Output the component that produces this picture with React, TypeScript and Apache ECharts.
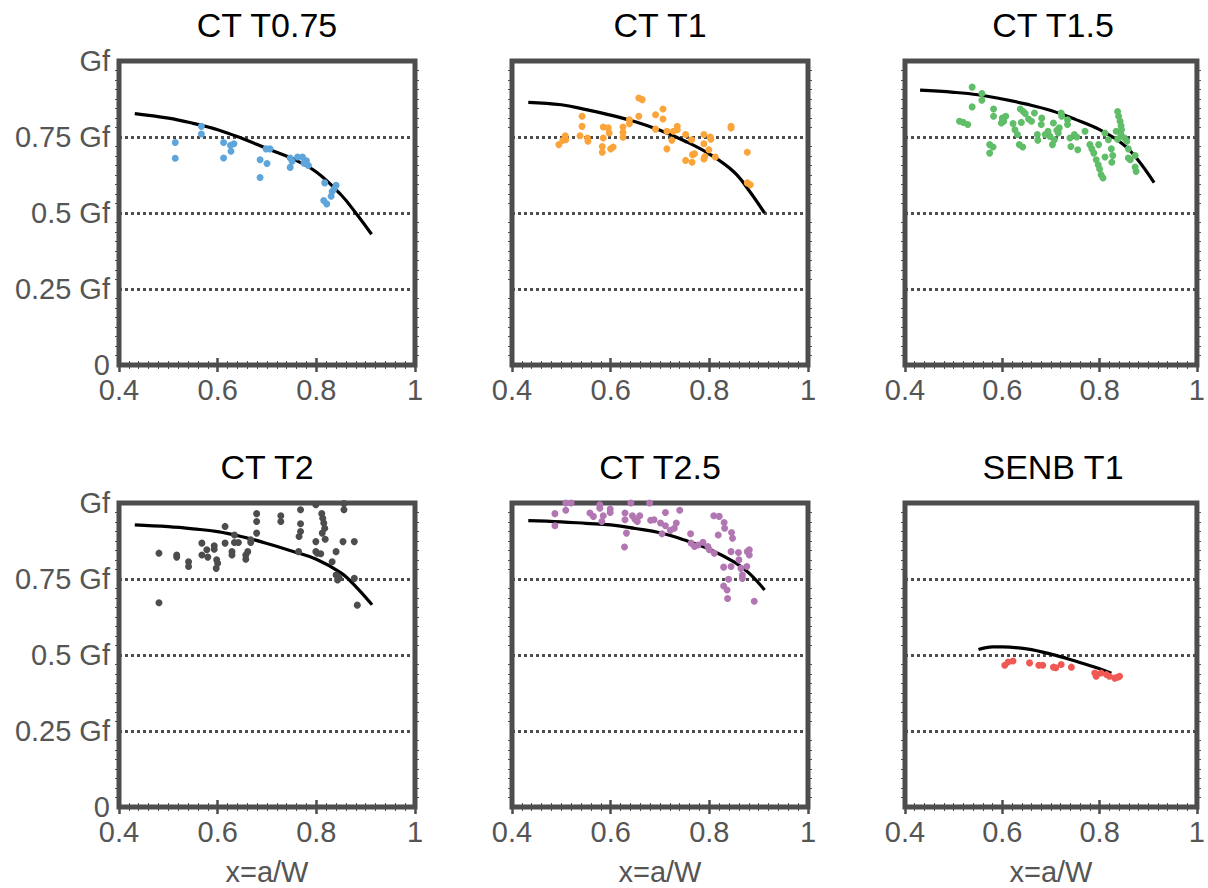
import React, { useEffect, useRef } from "react";
import * as echarts from "echarts";

// ---------- data ----------
const panelTitles = ["CT T0.75", "CT T1", "CT T1.5", "CT T2", "CT T2.5", "SENB T1"];
const panelColors = ["#5DA5DA", "#FAA43A", "#60BD68", "#4D4D4D", "#B276B2", "#F15854"];
const yTickLabels: Record<string, string> = { "0": "0", "0.25": "0.25 Gf", "0.5": "0.5 Gf", "0.75": "0.75 Gf", "1": "Gf" };

const ptsT075 = [
  [0.514, 0.732], [0.514, 0.68], [0.567, 0.785], [0.567, 0.76], [0.612, 0.732], [0.612, 0.681],
  [0.626, 0.723], [0.633, 0.728], [0.627, 0.703], [0.686, 0.675], [0.686, 0.617], [0.7, 0.663],
  [0.698, 0.711], [0.706, 0.711], [0.747, 0.681], [0.747, 0.65], [0.751, 0.67], [0.762, 0.684],
  [0.772, 0.684], [0.78, 0.672], [0.784, 0.656], [0.775, 0.664], [0.817, 0.599], [0.815, 0.541],
  [0.821, 0.53], [0.83, 0.555], [0.832, 0.571], [0.84, 0.591], [0.836, 0.579],
];
const fitT075 = [
  [0.432, 0.827], [0.5, 0.812], [0.55, 0.795], [0.6, 0.774], [0.65, 0.745], [0.7, 0.712],
  [0.75, 0.68], [0.8, 0.635], [0.85, 0.56], [0.88, 0.5], [0.912, 0.43],
];

const ptsT1 = [
  [0.495, 0.725], [0.503, 0.739], [0.508, 0.754], [0.509, 0.741], [0.542, 0.818], [0.542, 0.785],
  [0.538, 0.754], [0.553, 0.747], [0.554, 0.736], [0.585, 0.783], [0.585, 0.747], [0.583, 0.719],
  [0.583, 0.7], [0.595, 0.78], [0.597, 0.763], [0.6, 0.711], [0.605, 0.717], [0.625, 0.783],
  [0.625, 0.765], [0.625, 0.749], [0.638, 0.807], [0.638, 0.794], [0.657, 0.878], [0.664, 0.873],
  [0.657, 0.818], [0.691, 0.823], [0.691, 0.776], [0.706, 0.842], [0.706, 0.809], [0.714, 0.769],
  [0.714, 0.711], [0.724, 0.739], [0.727, 0.769], [0.735, 0.785], [0.735, 0.774], [0.752, 0.758],
  [0.752, 0.673], [0.764, 0.741], [0.766, 0.692], [0.77, 0.695], [0.765, 0.667], [0.789, 0.758],
  [0.789, 0.728], [0.789, 0.678], [0.791, 0.686], [0.799, 0.708], [0.802, 0.75], [0.803, 0.743],
  [0.812, 0.684], [0.844, 0.785], [0.844, 0.78], [0.877, 0.7], [0.877, 0.599], [0.883, 0.593],
];
const fitT1 = [
  [0.433, 0.864], [0.5, 0.856], [0.55, 0.84], [0.6, 0.822], [0.65, 0.8], [0.7, 0.772],
  [0.75, 0.737], [0.8, 0.694], [0.85, 0.635], [0.88, 0.575], [0.912, 0.5],
];

const ptsT15 = [
  [0.538, 0.914], [0.538, 0.849], [0.512, 0.802], [0.52, 0.798], [0.529, 0.791], [0.558, 0.893],
  [0.558, 0.871], [0.574, 0.725], [0.574, 0.697], [0.581, 0.717], [0.582, 0.842], [0.582, 0.818],
  [0.6, 0.812], [0.603, 0.802], [0.607, 0.818], [0.598, 0.796], [0.622, 0.794], [0.626, 0.774],
  [0.631, 0.758], [0.635, 0.725], [0.642, 0.717], [0.637, 0.842], [0.643, 0.834], [0.647, 0.827],
  [0.639, 0.798], [0.654, 0.809], [0.66, 0.802], [0.666, 0.829], [0.672, 0.758], [0.673, 0.739],
  [0.681, 0.812], [0.68, 0.791], [0.688, 0.758], [0.694, 0.769], [0.698, 0.752], [0.703, 0.725],
  [0.705, 0.796], [0.707, 0.741], [0.712, 0.772], [0.715, 0.763], [0.717, 0.78], [0.721, 0.829],
  [0.722, 0.818], [0.734, 0.807], [0.734, 0.791], [0.739, 0.747], [0.741, 0.719], [0.748, 0.758],
  [0.753, 0.75], [0.755, 0.708], [0.77, 0.769], [0.78, 0.725], [0.784, 0.711], [0.788, 0.697],
  [0.793, 0.675], [0.797, 0.659], [0.8, 0.645], [0.803, 0.626], [0.807, 0.615], [0.798, 0.725],
  [0.811, 0.763], [0.811, 0.684], [0.818, 0.741], [0.824, 0.711], [0.827, 0.689], [0.825, 0.667],
  [0.834, 0.769], [0.837, 0.834], [0.839, 0.818], [0.842, 0.802], [0.844, 0.787], [0.845, 0.774],
  [0.844, 0.758], [0.837, 0.743], [0.851, 0.747], [0.856, 0.736], [0.859, 0.711], [0.859, 0.681],
  [0.863, 0.675], [0.873, 0.689], [0.873, 0.651], [0.875, 0.637],
];
const fitT15 = [
  [0.431, 0.904], [0.5, 0.897], [0.55, 0.889], [0.6, 0.875], [0.65, 0.858], [0.7, 0.837],
  [0.75, 0.808], [0.8, 0.774], [0.85, 0.724], [0.88, 0.672], [0.912, 0.6],
];

const ptsT2 = [
  [0.481, 0.835], [0.481, 0.672], [0.517, 0.829], [0.517, 0.822], [0.541, 0.807], [0.541, 0.791],
  [0.568, 0.868], [0.568, 0.829], [0.578, 0.846], [0.58, 0.822], [0.593, 0.859], [0.593, 0.848],
  [0.598, 0.813], [0.6, 0.802], [0.597, 0.785], [0.615, 0.923], [0.615, 0.868], [0.629, 0.84],
  [0.629, 0.829], [0.634, 0.895], [0.634, 0.87], [0.642, 0.87], [0.657, 0.829], [0.657, 0.815],
  [0.661, 0.84], [0.667, 0.879], [0.667, 0.87], [0.679, 0.965], [0.679, 0.939], [0.679, 0.901],
  [0.728, 0.958], [0.728, 0.939], [0.764, 0.84], [0.765, 0.89], [0.768, 0.978], [0.768, 0.932],
  [0.768, 0.906], [0.799, 0.873], [0.799, 0.84], [0.802, 0.835], [0.809, 0.833], [0.811, 0.965],
  [0.813, 0.95], [0.815, 0.934], [0.817, 0.917], [0.812, 0.901], [0.818, 0.881], [0.832, 0.807],
  [0.84, 0.84], [0.84, 0.763], [0.843, 0.747], [0.846, 0.756], [0.854, 0.873], [0.856, 0.998],
  [0.856, 0.978], [0.877, 0.873], [0.877, 0.752], [0.883, 0.664], [0.799, 0.994],
];
const fitT2 = [
  [0.432, 0.928], [0.5, 0.922], [0.55, 0.915], [0.6, 0.906], [0.65, 0.889], [0.7, 0.867],
  [0.75, 0.842], [0.8, 0.815], [0.85, 0.77], [0.88, 0.725], [0.913, 0.665],
];

const ptsT25 = [
  [0.487, 0.965], [0.487, 0.925], [0.509, 1.0], [0.509, 0.976], [0.52, 1.0], [0.558, 0.967],
  [0.565, 0.956], [0.578, 0.994], [0.578, 0.983], [0.582, 0.939], [0.585, 0.958], [0.599, 0.98],
  [0.599, 0.969], [0.629, 0.967], [0.629, 0.945], [0.632, 0.901], [0.628, 0.855], [0.641, 1.0],
  [0.644, 0.958], [0.649, 0.947], [0.654, 0.939], [0.659, 0.958], [0.679, 1.0], [0.681, 0.943],
  [0.688, 0.945], [0.701, 0.934], [0.711, 0.969], [0.711, 0.925], [0.721, 0.91], [0.729, 0.917],
  [0.733, 0.934], [0.704, 0.899], [0.74, 0.976], [0.762, 0.899], [0.763, 0.868], [0.77, 0.857],
  [0.777, 0.862], [0.787, 0.871], [0.797, 0.857], [0.8, 0.846], [0.81, 0.835], [0.809, 0.958],
  [0.82, 0.956], [0.83, 0.936], [0.831, 0.917], [0.818, 0.895], [0.845, 0.903], [0.847, 0.884],
  [0.844, 0.84], [0.829, 0.789], [0.844, 0.791], [0.839, 0.749], [0.829, 0.727], [0.836, 0.714],
  [0.837, 0.686], [0.859, 0.837], [0.86, 0.813], [0.864, 0.785], [0.867, 0.763], [0.867, 0.752],
  [0.876, 0.791], [0.877, 0.84], [0.881, 0.846], [0.881, 0.829], [0.891, 0.677],
];
const fitT25 = [
  [0.433, 0.942], [0.5, 0.938], [0.55, 0.933], [0.6, 0.928], [0.65, 0.916], [0.7, 0.902],
  [0.75, 0.878], [0.8, 0.848], [0.85, 0.806], [0.88, 0.77], [0.912, 0.714],
];

const ptsSENB = [
  [0.605, 0.466], [0.612, 0.477], [0.622, 0.48], [0.656, 0.474], [0.675, 0.466], [0.683, 0.466],
  [0.705, 0.46], [0.71, 0.458], [0.721, 0.469], [0.742, 0.46], [0.79, 0.441], [0.793, 0.43],
  [0.803, 0.441], [0.814, 0.436], [0.82, 0.43], [0.831, 0.424], [0.837, 0.427], [0.841, 0.43],
];
const fitSENB = [
  [0.551, 0.518], [0.58, 0.527], [0.6, 0.527], [0.65, 0.52], [0.7, 0.503], [0.75, 0.48],
  [0.8, 0.455], [0.824, 0.44],
];

const panelPoints = [ptsT075, ptsT1, ptsT15, ptsT2, ptsT25, ptsSENB];
const panelFits = [fitT075, fitT1, fitT15, fitT2, fitT25, fitSENB];

// ---------- layout ----------
const FONT = "'Liberation Sans', Arial, Helvetica, sans-serif";
const FRAME = "#4d4d4d";
const LABEL = "#555555";
const LEFTS = [119, 512, 905];
const TOPS = [61, 503];
const GW = 296;
const GH = 304;

function fmtX(v: number) {
  return String(Math.round(v * 10) / 10);
}
function fmtY(v: number) {
  const k = String(Math.round(v * 100) / 100);
  return yTickLabels[k] ?? k;
}

function buildOption() {
  const grid: any[] = [];
  const xAxis: any[] = [];
  const yAxis: any[] = [];
  const series: any[] = [];
  const title: any[] = [];

  panelTitles.forEach((t, i) => {
    const col = i % 3;
    const row = Math.floor(i / 3);
    const left = LEFTS[col];
    const top = TOPS[row];
    grid.push({
      left, top, width: GW, height: GH,
      show: true, borderColor: FRAME, borderWidth: 5, backgroundColor: "transparent",
      containLabel: false,
    });
    title.push({
      text: t,
      left: left + GW / 2,
      top: top - 53,
      textAlign: "center",
      padding: 0,
      textStyle: { fontFamily: FONT, fontSize: 34, fontWeight: "normal", color: "#000" },
    });
    const baseX = {
      type: "value", gridIndex: i, min: 0.4, max: 1, interval: 0.2,
      axisLine: { show: false },
      splitLine: { show: false },
    };
    xAxis.push({
      ...baseX,
      position: "bottom",
      axisTick: { show: true, inside: true, length: 7, lineStyle: { color: FRAME, width: 2.5 } },
      minorTick: { show: true, splitNumber: 10, length: 4, lineStyle: { color: FRAME, width: 1 } },
      axisLabel: {
        show: true, margin: 10, formatter: fmtX,
        fontFamily: FONT, fontSize: 29, color: LABEL,
      },
      name: row === 1 ? "x=a/W" : "",
      nameLocation: "middle",
      nameGap: 50,
      nameTextStyle: { fontFamily: FONT, fontSize: 29, color: LABEL },
    });
    xAxis.push({
      ...baseX,
      position: "top",
      axisTick: { show: true, inside: true, length: 7, lineStyle: { color: FRAME, width: 2.5 } },
      minorTick: { show: true, splitNumber: 10, length: 4, lineStyle: { color: FRAME, width: 1 } },
      axisLabel: { show: false },
    });
    const baseY = {
      type: "value", gridIndex: i, min: 0, max: 1, interval: 0.25,
      axisLine: { show: false },
    };
    yAxis.push({
      ...baseY,
      position: "left",
      axisTick: { show: false },
      minorTick: { show: true, splitNumber: 8, length: 4, lineStyle: { color: FRAME, width: 1 } },
      splitLine: { show: true, lineStyle: { color: FRAME, width: 3, type: [3, 3] } },
      axisLabel: {
        show: col === 0, margin: 9, formatter: fmtY,
        fontFamily: FONT, fontSize: 29, color: LABEL,
      },
    });
    yAxis.push({
      ...baseY,
      position: "right",
      axisTick: { show: false },
      minorTick: { show: true, splitNumber: 8, length: 4, lineStyle: { color: FRAME, width: 1 } },
      splitLine: { show: false },
      axisLabel: { show: false },
    });
    series.push({
      type: "line",
      xAxisIndex: 2 * i, yAxisIndex: 2 * i,
      data: panelFits[i],
      smooth: 0.4,
      showSymbol: false,
      lineStyle: { color: "#000", width: 3.2 },
      z: 3,
    });
    series.push({
      type: "scatter",
      xAxisIndex: 2 * i, yAxisIndex: 2 * i,
      data: panelPoints[i],
      symbolSize: 7,
      itemStyle: { color: panelColors[i], opacity: 1 },
      z: 4,
    });
  });

  return { animation: false, backgroundColor: "#fff", title, grid, xAxis, yAxis, series };
}

export default function App() {
  const ref = useRef<HTMLDivElement>(null);
  useEffect(() => {
    if (!ref.current) return;
    const chart = echarts.init(ref.current, undefined, { renderer: "svg" });
    chart.setOption(buildOption() as any);
    return () => chart.dispose();
  }, []);
  return (
    <div
      ref={ref}
      style={{ position: "absolute", left: 0, top: 0, width: 1208, height: 888, background: "#fff" }}
    />
  );
}
